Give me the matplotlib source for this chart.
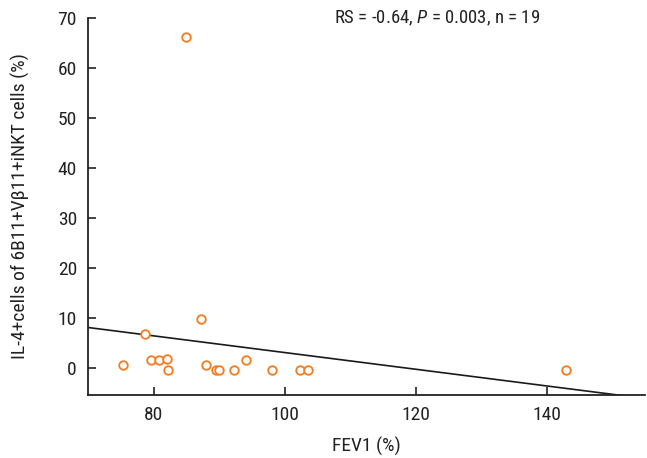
import matplotlib
matplotlib.use("Agg")
import matplotlib.pyplot as plt
import numpy as np

plt.rcParams['font.family'] = ['Roboto Condensed', 'DejaVu Sans']
plt.rcParams['mathtext.fontset'] = 'custom'
plt.rcParams['mathtext.it'] = 'Roboto Condensed:italic'
plt.rcParams['mathtext.rm'] = 'Roboto Condensed'

# data
fev1 = [75.3, 78.7, 79.6, 80.8, 82.1, 82.2, 84.9, 87.2, 88.0, 89.5,
        90.0, 92.3, 94.1, 98.1, 102.3, 103.5, 143.0]
il4 = [0.6, 6.7, 1.5, 1.6, 1.7, -0.4, 66.2, 9.7, 0.5, -0.4,
       -0.4, -0.4, 1.6, -0.4, -0.4, -0.4, -0.5]
fit_x = [70, 155]
fit_y = [8.1, -6.1]
xticks = [80, 100, 120, 140]
yticks = [0, 10, 20, 30, 40, 50, 60, 70]

fig = plt.figure(figsize=(6.47, 4.58), dpi=100)
ax = fig.add_axes([0.136, 0.1376, 0.861, 0.8231])

ax.plot(fit_x, fit_y, color='#1a1a1a', lw=1.2, zorder=2)
ax.scatter(fev1, il4, s=38, facecolors='white', edgecolors='#F47B20',
           linewidths=1.3, zorder=3)

ax.set_xlim(70, 155)
ax.set_ylim(-5.4, 70)
ax.set_xticks(xticks)
ax.set_yticks(yticks)
for s in ['top', 'right']:
    ax.spines[s].set_visible(False)
for s in ['left', 'bottom']:
    ax.spines[s].set_linewidth(1.3)
    ax.spines[s].set_color('#222222')
ax.tick_params(direction='in', length=6, width=1.2, labelsize=14, pad=8,
               colors='#222222')

ax.set_xlabel('FEV1 (%)', fontsize=14, labelpad=9, color='#222222')
ax.set_ylabel('IL-4+cells of 6B11+V\u03b211+iNKT cells (%)', fontsize=14,
              labelpad=20, color='#222222')

ax.text(0.8115, 1.0, 'RS = -0.64, $P$ = 0.003, n = 19', transform=ax.transAxes,
        ha='right', va='center', fontsize=13.5, color='#222222')

fig.savefig('out.png', dpi=100)
